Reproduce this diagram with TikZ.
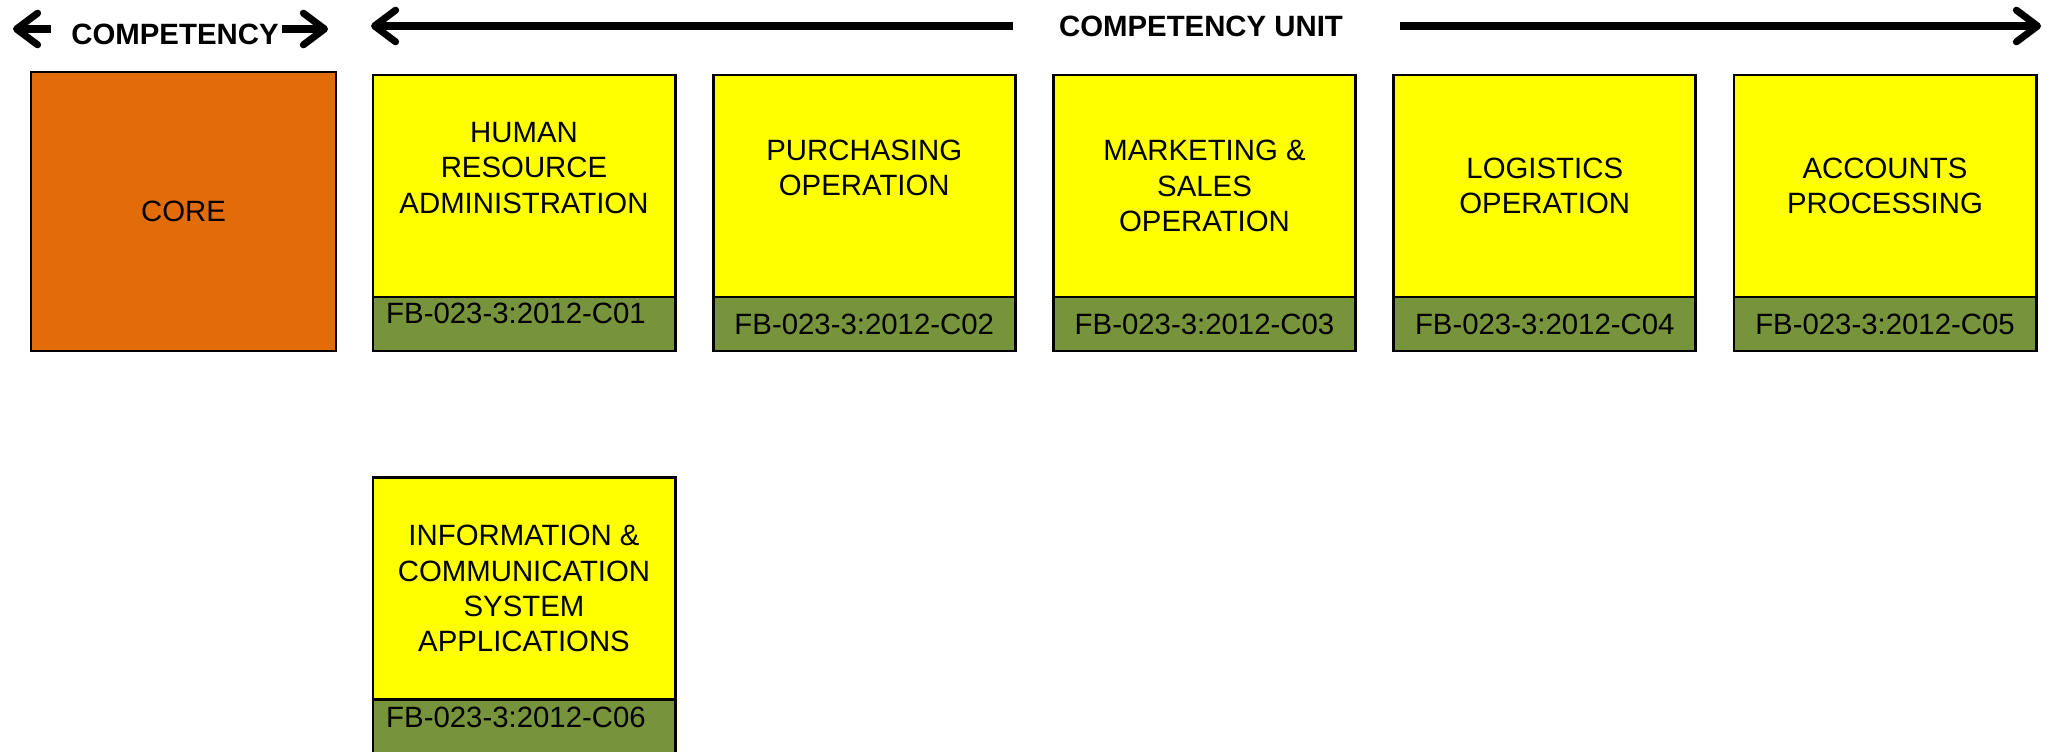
\documentclass[tikz,border=0pt]{standalone}
\usepackage{fontspec}
\setmainfont{Liberation Sans}
\usepackage{tikz}
\usetikzlibrary{arrows.meta, positioning}
\definecolor{coreorange}{RGB}{227,108,10}
\definecolor{unityellow}{RGB}{255,255,0}
\definecolor{codegreen}{RGB}{119,147,60}

\begin{document}
\begin{tikzpicture}[
    x=0.01cm, y=-0.01cm,
    every node/.style={font=\fontsize{8.35}{10}\selectfont},
    core/.style={rectangle, draw=black, line width=0.6pt, fill=coreorange, minimum width=3.05cm, minimum height=2.79cm, outer sep=0pt},
    unit/.style={rectangle, draw=black, line width=0.8pt, fill=unityellow, minimum width=3.02cm, minimum height=2.22cm, align=center, outer sep=0pt},
    code/.style={rectangle, draw=black, line width=0.8pt, fill=codegreen, minimum width=3.02cm, minimum height=0.54cm, inner sep=0pt, outer sep=0pt},
    header/.style={font=\fontsize{8.35}{10}\selectfont\bfseries, inner sep=0pt},
    arrow/.style={-{Straight Barb[length=6pt, width=9pt, round]}, line width=2pt}
]
    \useasboundingbox (0,0) rectangle (2051,752);

    % Headers
    \node[header] (comp) at (175,34) {COMPETENCY};
    \node[header] (unit) at (1201,26) {COMPETENCY UNIT};
    \coordinate (compl) at (13,29);
    \coordinate (compr) at (328,29);
    \coordinate (unitl) at (371,26);
    \coordinate (unitr) at (2041,26);

    % Arrows
    \draw[arrow, shorten <=0.2cm] (comp.west |- compl) -- (compl);
    \draw[arrow, shorten <=0.03cm] (comp.east |- compr) -- (compr);
    \draw[arrow, shorten <=0.45cm] (unit.west) -- (unitl);
    \draw[arrow, shorten <=0.56cm] (unit.east) -- (unitr);

    % Core
    \node[core] (core) at (183.5,211.5) {CORE};

    % Units
    \node[unit, label={[align=center, yshift=0.18cm]center:HUMAN\\RESOURCE\\ADMINISTRATION}] (hr) at (524,186) {};
    \node[unit, label={[align=center, yshift=0.18cm]center:PURCHASING\\OPERATION}] (pur) at (864.25,186) {};
    \node[unit] (mkt) at (1204.5,186) {MARKETING \&\\SALES\\OPERATION};
    \node[unit] (log) at (1544.75,186) {LOGISTICS\\OPERATION};
    \node[unit] (acc) at (1885,186) {ACCOUNTS\\PROCESSING};
    \node[unit] (ict) at (524,588.5) {INFORMATION \&\\COMMUNICATION\\SYSTEM\\APPLICATIONS};

    % Codes
    \node[code, below=0pt of hr, label={[shift={(-0.08cm,0.11cm)}]center:FB-023-3:2012-C01}] (hrcode) {};
    \node[code, below=0pt of pur] (purcode) {FB-023-3:2012-C02};
    \node[code, below=0pt of mkt] (mktcode) {FB-023-3:2012-C03};
    \node[code, below=0pt of log] (logcode) {FB-023-3:2012-C04};
    \node[code, below=0pt of acc] (acccode) {FB-023-3:2012-C05};
    \node[code, below=0pt of ict, label={[shift={(-0.08cm,0.09cm)}]center:FB-023-3:2012-C06}] (ictcode) {};
\end{tikzpicture}
\end{document}
